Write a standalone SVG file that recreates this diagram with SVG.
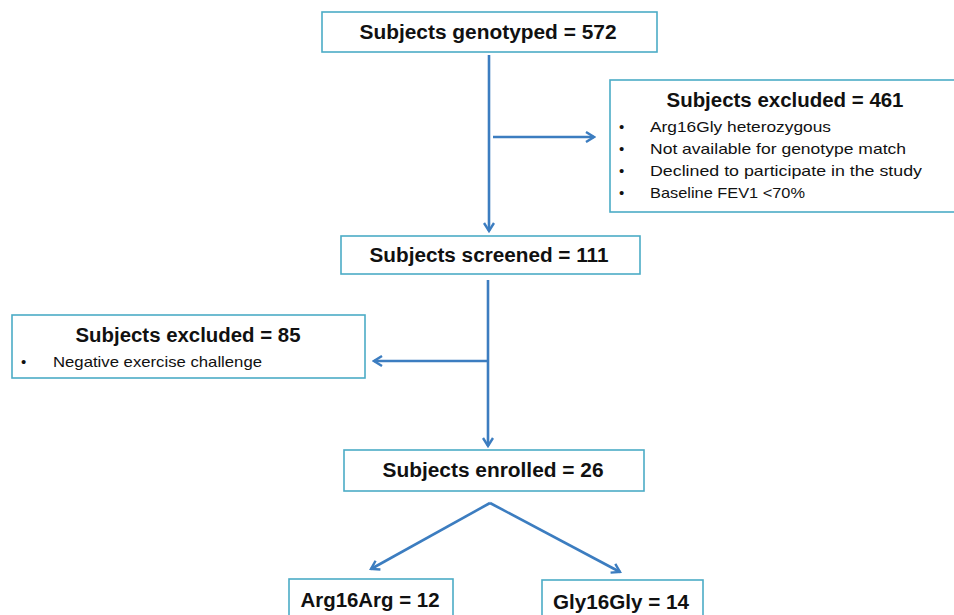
<svg xmlns="http://www.w3.org/2000/svg" width="954" height="615" viewBox="0 0 954 615">
<style>
.box{fill:#fff;stroke:#4BACC6;stroke-width:1.6}
.t{font-family:"Liberation Sans",Arial,sans-serif;font-weight:bold;font-size:20px;fill:#111;text-anchor:middle}
.s{font-family:"Liberation Sans",Arial,sans-serif;font-size:15px;fill:#111}
.c{fill:none;stroke:#3C7DC0;stroke-width:2.6}
</style>
<defs>
<marker id="ah" viewBox="0 0 12 12" refX="10" refY="6" markerWidth="12" markerHeight="12" markerUnits="userSpaceOnUse" orient="auto">
<path d="M2,1 L10,6 L2,11" fill="none" stroke="#3C7DC0" stroke-width="2.4" stroke-linejoin="miter"/>
</marker>
</defs>
<rect width="954" height="615" fill="#fff"/>
<g id="connectors">
<line class="c" x1="489" y1="55" x2="489" y2="231" marker-end="url(#ah)"/>
<line class="c" x1="493" y1="137" x2="594" y2="137" marker-end="url(#ah)"/>
<line class="c" x1="488" y1="280" x2="488" y2="446" marker-end="url(#ah)"/>
<line class="c" x1="488" y1="361" x2="374" y2="361" marker-end="url(#ah)"/>
<line class="c" x1="490" y1="503" x2="371" y2="569" marker-end="url(#ah)"/>
<line class="c" x1="490" y1="503" x2="620" y2="572" marker-end="url(#ah)"/>
</g>
<g id="genotyped">
<rect class="box" x="322" y="12" width="335" height="40"/>
<text class="t" x="488" y="39" textLength="257" lengthAdjust="spacingAndGlyphs">Subjects genotyped = 572</text>
</g>
<g id="excluded461">
<rect class="box" x="610" y="80" width="346" height="132"/>
<text class="t" x="785" y="107" textLength="237" lengthAdjust="spacingAndGlyphs">Subjects excluded = 461</text>
<text class="s" x="619" y="132">•</text>
<text class="s" x="650" y="132" textLength="181" lengthAdjust="spacingAndGlyphs">Arg16Gly heterozygous</text>
<text class="s" x="619" y="154">•</text>
<text class="s" x="650" y="154" textLength="256" lengthAdjust="spacingAndGlyphs">Not available for genotype match</text>
<text class="s" x="619" y="176">•</text>
<text class="s" x="650" y="176" textLength="272" lengthAdjust="spacingAndGlyphs">Declined to participate in the study</text>
<text class="s" x="619" y="198">•</text>
<text class="s" x="650" y="198" textLength="155" lengthAdjust="spacingAndGlyphs">Baseline FEV1 &lt;70%</text>
</g>
<g id="screened">
<rect class="box" x="341" y="236" width="299" height="38"/>
<text class="t" x="489" y="262" textLength="239" lengthAdjust="spacingAndGlyphs">Subjects screened = 111</text>
</g>
<g id="excluded85">
<rect class="box" x="12" y="315" width="353" height="63"/>
<text class="t" x="188" y="342" textLength="225" lengthAdjust="spacingAndGlyphs">Subjects excluded = 85</text>
<text class="s" x="21" y="367">•</text>
<text class="s" x="53" y="367" textLength="209" lengthAdjust="spacingAndGlyphs">Negative exercise challenge</text>
</g>
<g id="enrolled">
<rect class="box" x="344" y="450" width="300" height="41"/>
<text class="t" x="493" y="477" textLength="221" lengthAdjust="spacingAndGlyphs">Subjects enrolled = 26</text>
</g>
<g id="arg16arg">
<rect class="box" x="289" y="579" width="164" height="45"/>
<text class="t" x="370" y="607" textLength="139" lengthAdjust="spacingAndGlyphs">Arg16Arg = 12</text>
</g>
<g id="gly16gly">
<rect class="box" x="542" y="580" width="161" height="45"/>
<text class="t" x="621" y="609" textLength="136" lengthAdjust="spacingAndGlyphs">Gly16Gly = 14</text>
</g>
</svg>
